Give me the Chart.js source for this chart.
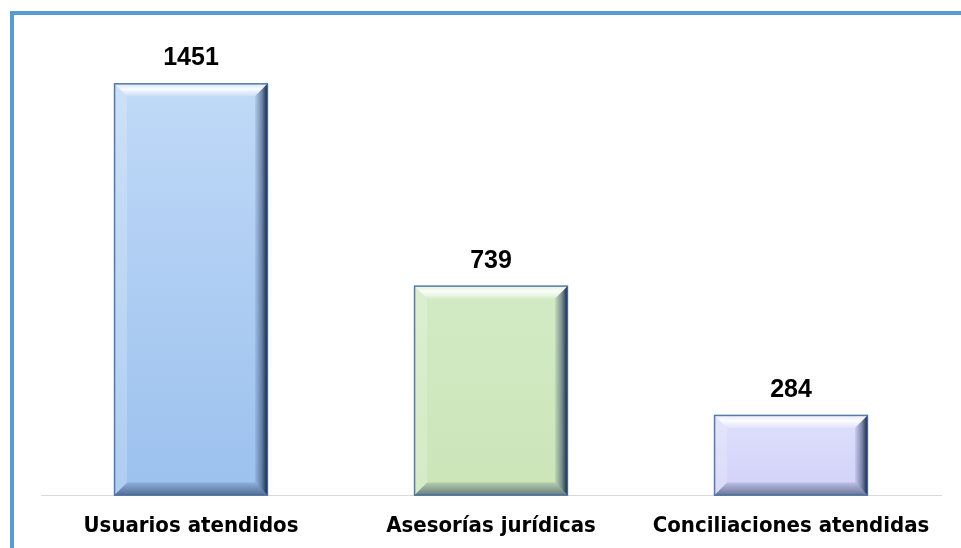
<!DOCTYPE html>
<html>
<head>
<meta charset="utf-8">
<script src="https://cdn.jsdelivr.net/npm/chart.js@4.4.1/dist/chart.umd.min.js"></script>
<style>
  html, body { margin: 0; padding: 0; background: #fff; overflow: hidden; }
  #frame { position: absolute; left: 10px; top: 11px; width: 960px; height: 540px;
           border-top: 4px solid #5b9bd5; border-left: 4px solid #5b9bd5; }
  #wrap { position: absolute; left: 0; top: 0; width: 961px; height: 556px; }
</style>
</head>
<body>
<div id="frame"></div>
<div id="wrap"><canvas id="chart" width="961" height="556"></canvas></div>
<script>
const categories = ['Usuarios atendidos', 'Asesorías jurídicas', 'Conciliaciones atendidas'];
const values = [1451, 739, 284];
const barTop = ['#c0d9f7', '#d3ebc5', '#dedefd'];
const barBottom = ['#9bc1ee', '#cbe5b8', '#d2d2f8'];

// bevelled look + value labels on top of each bar
const bevelPlugin = {
  id: 'bevel',
  afterDatasetsDraw(chart) {
    const ctx = chart.ctx;
    const meta = chart.getDatasetMeta(0);
    meta.data.forEach(function (bar, i) {
      const x0 = bar.x - bar.width / 2, x1 = bar.x + bar.width / 2;
      const y0 = bar.y, y1 = bar.base;
      const b = 13;
      ctx.save();
      // top
      let g = ctx.createLinearGradient(0, y0, 0, y0 + b);
      g.addColorStop(0, 'rgba(255,255,255,0.3)');
      g.addColorStop(0.45, 'rgba(255,255,255,0.9)');
      g.addColorStop(1, 'rgba(255,255,255,0.15)');
      ctx.fillStyle = g;
      ctx.beginPath();
      ctx.moveTo(x0, y0); ctx.lineTo(x1, y0); ctx.lineTo(x1 - b, y0 + b); ctx.lineTo(x0 + b, y0 + b);
      ctx.closePath(); ctx.fill();
      // left
      ctx.fillStyle = 'rgba(255,255,255,0.2)';
      ctx.beginPath();
      ctx.moveTo(x0, y0); ctx.lineTo(x0 + b, y0 + b); ctx.lineTo(x0 + b, y1 - b); ctx.lineTo(x0, y1);
      ctx.closePath(); ctx.fill();
      // right
      g = ctx.createLinearGradient(x1 - b, 0, x1, 0);
      g.addColorStop(0, 'rgba(40,60,100,0.08)');
      g.addColorStop(0.5, 'rgba(40,60,100,0.5)');
      g.addColorStop(1, 'rgba(10,25,45,1)');
      ctx.fillStyle = g;
      ctx.beginPath();
      ctx.moveTo(x1, y0); ctx.lineTo(x1, y1); ctx.lineTo(x1 - b, y1 - b); ctx.lineTo(x1 - b, y0 + b);
      ctx.closePath(); ctx.fill();
      // bottom
      g = ctx.createLinearGradient(0, y1 - b, 0, y1);
      g.addColorStop(0, 'rgba(40,60,100,0.15)');
      g.addColorStop(1, 'rgba(30,50,80,0.6)');
      ctx.fillStyle = g;
      ctx.beginPath();
      ctx.moveTo(x0, y1); ctx.lineTo(x1, y1); ctx.lineTo(x1 - b, y1 - b); ctx.lineTo(x0 + b, y1 - b);
      ctx.closePath(); ctx.fill();
      // outline
      ctx.strokeStyle = 'rgba(70,110,160,0.9)';
      ctx.lineWidth = 1.5;
      ctx.strokeRect(x0 + 0.5, y0 + 0.5, bar.width - 1, y1 - y0 - 1);
      // value label
      ctx.fillStyle = '#000';
      ctx.font = 'bold 25px "Liberation Sans", Arial, sans-serif';
      ctx.textAlign = 'center';
      ctx.textBaseline = 'alphabetic';
      ctx.fillText(values[i], bar.x, y0 - 18);
      ctx.restore();
    });
  }
};

const ctx = document.getElementById('chart').getContext('2d');
new Chart(ctx, {
  type: 'bar',
  data: {
    labels: categories,
    datasets: [{
      data: values,
      backgroundColor: function (c) {
        const ys = c.chart.scales.y;
        if (!c.chart.chartArea || !ys) return barTop[c.dataIndex];
        const top = ys.getPixelForValue(values[c.dataIndex]);
        const base = ys.getPixelForValue(0);
        if (!isFinite(top) || !isFinite(base)) return barTop[c.dataIndex];
        const g = c.chart.ctx.createLinearGradient(0, top, 0, base);
        g.addColorStop(0, barTop[c.dataIndex]);
        g.addColorStop(1, barBottom[c.dataIndex]);
        return g;
      },
      borderWidth: 0,
      barPercentage: 0.513,
      categoryPercentage: 1.0
    }]
  },
  options: {
    responsive: false,
    animation: false,
    layout: { padding: { left: 41, right: 20, top: 41, bottom: 8 } },
    plugins: { legend: { display: false }, tooltip: { enabled: false } },
    scales: {
      x: {
        grid: { display: false },
        border: { display: true, color: '#d9d9d9', width: 1 },
        ticks: {
          color: '#000',
          padding: 9,
          font: { family: '"DejaVu Sans Condensed", "Liberation Sans Narrow", sans-serif', size: 22, weight: 'bold' }
        }
      },
      y: { display: false, min: 0, max: 1600 }
    }
  },
  plugins: [bevelPlugin]
});
</script>
</body>
</html>
